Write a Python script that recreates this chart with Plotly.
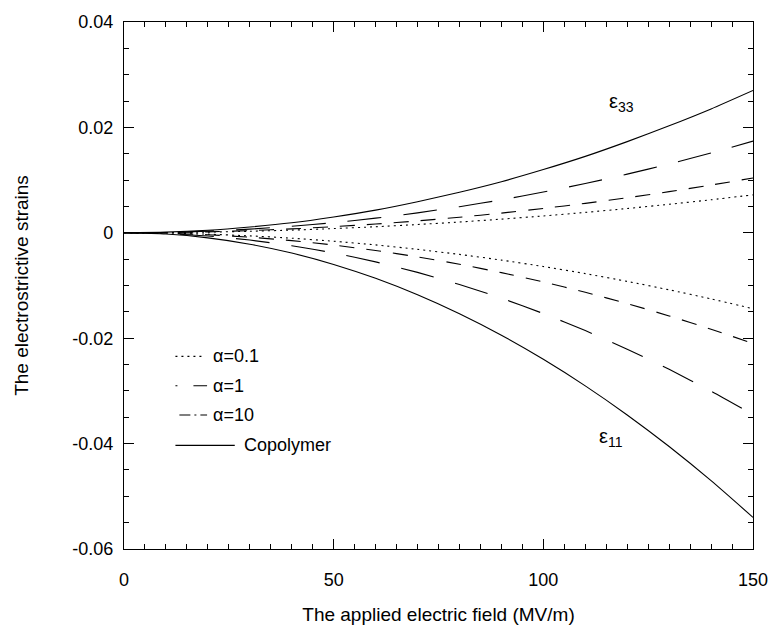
import plotly.graph_objects as go

# ---- data ----
field = [0, 10, 20, 30, 40, 50, 60, 70, 80, 90, 100, 110, 120, 130, 140, 150]

cop_e33 = [0, 0.00012, 0.00048, 0.0011, 0.0019, 0.0030, 0.0043, 0.0059, 0.0077, 0.0097,
           0.0120, 0.0145, 0.0173, 0.0203, 0.0235, 0.0270]
a1_e33 = [0, 0.000077, 0.00031, 0.0007, 0.00124, 0.00193, 0.00278, 0.00379, 0.00495, 0.00626,
          0.00773, 0.00935, 0.01113, 0.01306, 0.01515, 0.0174]
a10_e33 = [0, 0.000046, 0.000185, 0.00042, 0.00074, 0.00116, 0.00166, 0.00226, 0.00296, 0.00374,
           0.00462, 0.00559, 0.00665, 0.00781, 0.00906, 0.0104]
a01_e33 = [0, 0.000032, 0.000128, 0.00029, 0.00051, 0.0008, 0.00115, 0.00157, 0.00205, 0.00259,
           0.0032, 0.00387, 0.00461, 0.00541, 0.00627, 0.0072]

a01_e11 = [0, -0.000064, -0.000256, -0.00058, -0.00102, -0.0016, -0.0023, -0.00314, -0.0041, -0.00518,
           -0.0064, -0.00774, -0.00922, -0.01082, -0.01254, -0.0144]
a10_e11 = [0, -0.000093, -0.00037, -0.00084, -0.00149, -0.00233, -0.00336, -0.00457, -0.00597, -0.00756,
           -0.00933, -0.01129, -0.01344, -0.01577, -0.01829, -0.0210]
a1_e11 = [0, -0.00015, -0.00061, -0.00138, -0.00245, -0.00383, -0.00552, -0.00751, -0.00981, -0.01242,
          -0.01533, -0.01855, -0.02208, -0.02591, -0.03005, -0.0345]
cop_e11 = [0, -0.00024, -0.00096, -0.00216, -0.00384, -0.006, -0.00864, -0.01176, -0.01536, -0.01944,
           -0.024, -0.02904, -0.03456, -0.04056, -0.04704, -0.054]

legend_labels = ["α=0.1", "α=1", "α=10", "Copolymer"]
y_tickvals = [-0.06, -0.04, -0.02, 0, 0.02, 0.04]
y_ticktext = ["-0.06", "-0.04", "-0.02", "0", "0.02", "0.04"]
x_tickvals = [0, 50, 100, 150]

# ---- styles ----
FONT = "Liberation Sans, Arial, Helvetica, sans-serif"
line_dash = {
    "α=0.1": "2px,4px",
    "α=1": "34px,22px",
    "α=10": "15px,12px",
    "Copolymer": "solid",
}
legend_dash = {
    "α=0.1": "2px,4px",
    "α=1": "2px,16px,14px",
    "α=10": "11px,4px,2px,4px,11px",
    "Copolymer": "solid",
}

fig = go.Figure()
series = [
    ("α=0.1", a01_e33, a01_e11),
    ("α=1", a1_e33, a1_e11),
    ("α=10", a10_e33, a10_e11),
    ("Copolymer", cop_e33, cop_e11),
]
for name, up, dn in series:
    for ys in (up, dn):
        fig.add_trace(go.Scatter(
            x=field, y=ys, mode="lines", name=name, showlegend=False,
            line=dict(color="black", width=1.1, dash=line_dash[name], shape="spline", smoothing=0.6),
        ))

# ---- custom legend (sample lines + labels), positioned in pixels ----
L, R, T, B = 124, 760, 15, 554
def px(x):
    return (x - L) / (R - L)
def py(y):
    return (B - y) / (B - T)

rows = [357, 387, 417, 448]
sample_x = [(176, 206), (176, 208), (180, 208), (176, 236)]
text_x = [212, 212, 212, 243]
for lab, ry, (sx0, sx1), tx in zip(legend_labels, rows, sample_x, text_x):
    fig.add_shape(type="line", xref="paper", yref="paper",
                  x0=px(sx0), x1=px(sx1), y0=py(ry), y1=py(ry),
                  line=dict(color="black", width=1.1, dash=legend_dash[lab]))
    fig.add_annotation(xref="paper", yref="paper", x=px(tx), y=py(ry),
                       text=lab, showarrow=False, xanchor="left", yanchor="middle",
                       font=dict(family=FONT, size=18, color="black"))

fig.add_annotation(xref="paper", yref="paper", x=px(612), y=py(97),
                   text="ε<sub>33</sub>", showarrow=False, xanchor="left", yanchor="middle",
                   font=dict(family=FONT, size=20, color="black"))
fig.add_annotation(xref="paper", yref="paper", x=px(602), y=py(440),
                   text="ε<sub>11</sub>", showarrow=False, xanchor="left", yanchor="middle",
                   font=dict(family=FONT, size=20, color="black"))

axis_common = dict(
    showline=True, linecolor="black", linewidth=1.2, mirror="allticks",
    ticks="inside", ticklen=10, tickwidth=1, tickcolor="black",
    showgrid=False, zeroline=False,
    tickfont=dict(family=FONT, size=18, color="black"),
)

fig.update_xaxes(
    range=[0, 150], tickvals=x_tickvals,
    minor=dict(ticks="inside", dtick=5, ticklen=5, tickwidth=1, tickcolor="black", showgrid=False),
    title=dict(text="The applied electric field (MV/m)", font=dict(family=FONT, size=19, color="black"), standoff=18),
    ticklabelstandoff=14,
    **axis_common,
)
fig.update_yaxes(
    range=[-0.06, 0.04], tickvals=y_tickvals, ticktext=y_ticktext,
    minor=dict(ticks="inside", dtick=0.005, tick0=0, ticklen=5, tickwidth=1, tickcolor="black", showgrid=False),
    title=dict(text="The electrostrictive strains", font=dict(family=FONT, size=19, color="black"), standoff=38),
    ticklabelstandoff=6,
    **axis_common,
)

fig.update_layout(
    width=780, height=633,
    margin=dict(l=L, r=780 - R, t=T, b=633 - B),
    paper_bgcolor="white", plot_bgcolor="white",
    showlegend=False,
)

fig.write_html("out.html")
